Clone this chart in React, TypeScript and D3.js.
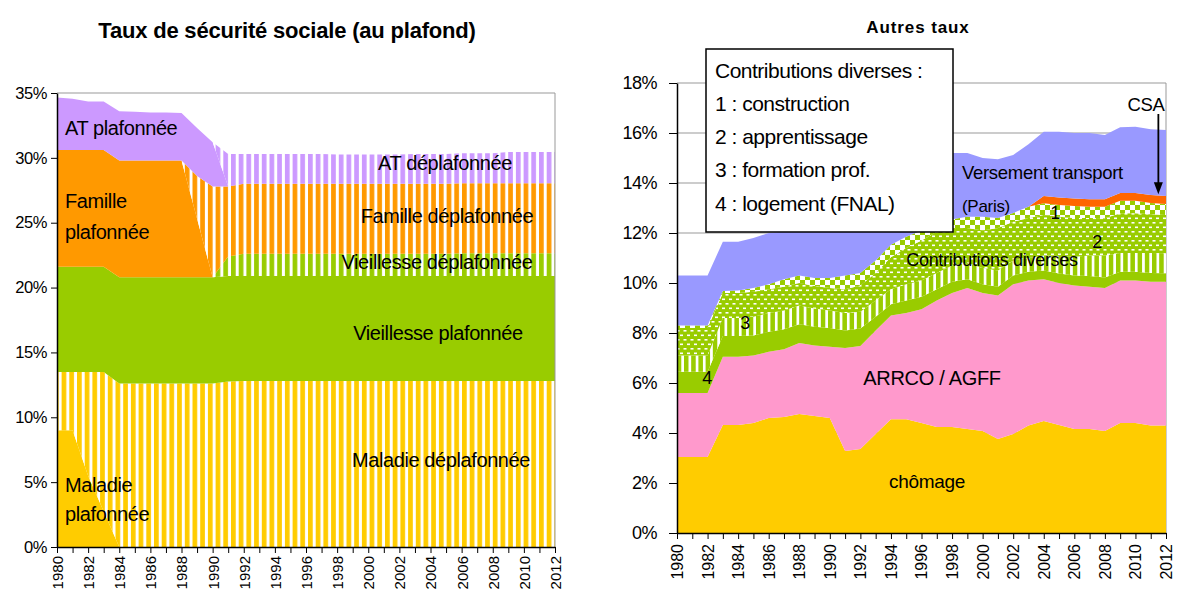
import { useEffect, useRef } from "react";
import * as d3 from "d3";

// années 1980 -> 2012
const years = [
  1980, 1981, 1982, 1983, 1984, 1985, 1986, 1987, 1988, 1989,
  1990, 1991, 1992, 1993, 1994, 1995, 1996, 1997, 1998, 1999,
  2000, 2001, 2002, 2003, 2004, 2005, 2006, 2007, 2008, 2009,
  2010, 2011, 2012,
];

// ---- Taux de sécurité sociale (en %) ----
const maladiePlaf = [
  9, 9, 5.5, 2.75, 0, 0, 0, 0, 0, 0,
  0, 0, 0, 0, 0, 0, 0, 0, 0, 0,
  0, 0, 0, 0, 0, 0, 0, 0, 0, 0,
  0, 0, 0,
];
const maladieDeplaf = [
  4.5, 4.5, 8, 10.75, 12.6, 12.6, 12.6, 12.6, 12.6, 12.6,
  12.6, 12.75, 12.8, 12.8, 12.8, 12.8, 12.8, 12.8, 12.8, 12.8,
  12.8, 12.8, 12.8, 12.8, 12.8, 12.8, 12.8, 12.8, 12.8, 12.8,
  12.8, 12.8, 12.8,
];
const vieillessePlaf = [
  8.1, 8.1, 8.1, 8.1, 8.2, 8.2, 8.2, 8.2, 8.2, 8.2,
  8.2, 8.15, 8.1, 8.1, 8.1, 8.1, 8.1, 8.1, 8.1, 8.1,
  8.1, 8.1, 8.1, 8.1, 8.1, 8.1, 8.1, 8.1, 8.1, 8.1,
  8.1, 8.1, 8.1,
];
const vieillesseDeplaf = [
  0, 0, 0, 0, 0, 0, 0, 0, 0, 0,
  0, 1.5, 1.7, 1.7, 1.7, 1.7, 1.7, 1.7, 1.7, 1.7,
  1.7, 1.7, 1.7, 1.7, 1.7, 1.7, 1.75, 1.75, 1.75, 1.75,
  1.75, 1.75, 1.75,
];
const famillePlaf = [
  9, 9, 9, 9, 9, 9, 9, 9, 9, 4.5,
  0, 0, 0, 0, 0, 0, 0, 0, 0, 0,
  0, 0, 0, 0, 0, 0, 0, 0, 0, 0,
  0, 0, 0,
];
const familleDeplaf = [
  0, 0, 0, 0, 0, 0, 0, 0, 0, 3.3,
  7, 5.4, 5.4, 5.4, 5.4, 5.4, 5.4, 5.4, 5.4, 5.4,
  5.4, 5.4, 5.4, 5.4, 5.4, 5.4, 5.4, 5.4, 5.4, 5.4,
  5.4, 5.4, 5.4,
];
const atPlaf = [
  4.05, 3.95, 3.75, 3.75, 3.8, 3.75, 3.7, 3.7, 3.65, 3.7,
  3.4, 0, 0, 0, 0, 0, 0, 0, 0, 0,
  0, 0, 0, 0, 0, 0, 0, 0, 0, 0,
  0, 0, 0,
];
const atDeplaf = [
  0, 0, 0, 0, 0, 0, 0, 0, 0, 0,
  0, 2.5, 2.3, 2.3, 2.3, 2.3, 2.3, 2.3, 2.25, 2.25,
  2.25, 2.25, 2.25, 2.3, 2.3, 2.3, 2.3, 2.3, 2.3, 2.4,
  2.4, 2.4, 2.4,
];

// ---- Autres taux (en %) ----
const chomage = [
  3.04, 3.04, 3.04, 4.32, 4.32, 4.4, 4.6, 4.64, 4.76, 4.68,
  4.6, 3.28, 3.36, 3.96, 4.55, 4.55, 4.4, 4.24, 4.24, 4.16,
  4.08, 3.76, 3.96, 4.3, 4.48, 4.32, 4.16, 4.16, 4.08, 4.4,
  4.4, 4.3, 4.3,
];
const arrco = [
  2.56, 2.56, 2.56, 2.73, 2.73, 2.7, 2.65, 2.71, 2.84, 2.82,
  2.85, 4.12, 4.12, 4.14, 4.15, 4.25, 4.55, 5.06, 5.36, 5.64,
  5.52, 5.74, 5.99, 5.8, 5.67, 5.68, 5.74, 5.69, 5.72, 5.7,
  5.7, 5.75, 5.75,
];
const logement = [
  0.85, 0.85, 0.85, 0.83, 0.83, 0.8, 0.8, 0.8, 0.75, 0.75,
  0.75, 0.7, 0.7, 0.55, 0.45, 0.5, 0.5, 0.45, 0.45, 0.35,
  0.35, 0.35, 0.35, 0.35, 0.35, 0.38, 0.4, 0.43, 0.42, 0.35,
  0.35, 0.35, 0.34,
];
const formation = [
  0.65, 0.65, 0.65, 0.72, 0.72, 0.75, 0.75, 0.75, 0.75, 0.73,
  0.7, 0.7, 0.67, 0.65, 0.6, 0.65, 0.65, 0.65, 0.65, 0.65,
  0.65, 0.65, 0.6, 0.55, 0.6, 0.7, 0.75, 0.82, 0.88, 0.75,
  0.75, 0.8, 0.8,
];
const apprentissage = [
  1.1, 1.1, 1.1, 1.0, 1.0, 1.0, 0.95, 0.95, 0.9, 0.9,
  0.9, 0.95, 1.05, 1.1, 1.28, 1.45, 1.6, 1.65, 1.5, 1.4,
  1.5, 1.7, 1.55, 1.6, 1.62, 1.57, 1.55, 1.5, 1.49, 1.59,
  1.59, 1.55, 1.53,
];
const construction = [
  0.1, 0.1, 0.1, 0.08, 0.1, 0.15, 0.2, 0.3, 0.3, 0.32,
  0.4, 0.55, 0.5, 0.5, 0.5, 0.45, 0.4, 0.4, 0.35, 0.45,
  0.55, 0.4, 0.35, 0.45, 0.47, 0.47, 0.48, 0.45, 0.46, 0.5,
  0.5, 0.45, 0.44,
];
const csa = [
  0, 0, 0, 0, 0, 0, 0, 0, 0, 0,
  0, 0, 0, 0, 0, 0, 0, 0, 0, 0,
  0, 0, 0, 0, 0.29, 0.3, 0.3, 0.3, 0.3, 0.31,
  0.31, 0.32, 0.32,
];
const transport = [
  2.0, 2.0, 2.0, 1.97, 1.95, 2.0, 2.05, 1.9, 1.85, 2.0,
  2.1, 2.2, 2.5, 2.5, 2.5, 2.55, 2.6, 2.45, 2.65, 2.55,
  2.35, 2.35, 2.32, 2.5, 2.57, 2.63, 2.62, 2.65, 2.57, 2.63,
  2.65, 2.63, 2.64,
];

const leftTicks = [0, 5, 10, 15, 20, 25, 30, 35];
const rightTicks = [0, 2, 4, 6, 8, 10, 12, 14, 16, 18];

const FONT = "'Liberation Sans', Arial, sans-serif";

export default function App() {
  const ref = useRef<SVGSVGElement>(null);

  useEffect(() => {
    const svg = d3.select(ref.current);
    svg.selectAll("*").remove();
    const defs = svg.append("defs");

    // motifs : rayures verticales, pointillés, damier
    const stripes = (id: string, color: string, w: number, gap: number) => {
      const p = defs.append("pattern").attr("id", id)
        .attr("patternUnits", "userSpaceOnUse").attr("width", w).attr("height", 10);
      p.append("rect").attr("width", w).attr("height", 10).attr("fill", "#fff");
      p.append("rect").attr("width", w - gap).attr("height", 10).attr("fill", color);
    };
    stripes("st-yellow", "#FFCC00", 7.7, 3);
    stripes("st-green", "#99CC00", 7.7, 3);
    stripes("st-orange", "#FF9900", 7.7, 3);
    stripes("st-purple", "#CC99FF", 7.7, 3);
    stripes("st-green2", "#99CC00", 7.2, 2.7);

    const dots = defs.append("pattern").attr("id", "dots")
      .attr("patternUnits", "userSpaceOnUse").attr("width", 7).attr("height", 9);
    dots.append("rect").attr("width", 7).attr("height", 9).attr("fill", "#99CC00");
    dots.append("rect").attr("x", 1).attr("y", 1.5).attr("width", 3).attr("height", 1.6).attr("fill", "#fff");
    dots.append("rect").attr("x", 4.5).attr("y", 6).attr("width", 3).attr("height", 1.6).attr("fill", "#fff");
    dots.append("rect").attr("x", -2.5).attr("y", 6).attr("width", 3).attr("height", 1.6).attr("fill", "#fff");

    const checker = defs.append("pattern").attr("id", "checker")
      .attr("patternUnits", "userSpaceOnUse").attr("width", 10).attr("height", 10);
    checker.append("rect").attr("width", 10).attr("height", 10).attr("fill", "#fff");
    checker.append("rect").attr("width", 5).attr("height", 5).attr("fill", "#99CC00");
    checker.append("rect").attr("x", 5).attr("y", 5).attr("width", 5).attr("height", 5).attr("fill", "#99CC00");

    // ================= graphique de gauche =================
    const xL = d3.scaleLinear().domain([1980, 2012]).range([57, 555]);
    const yL = d3.scaleLinear().domain([0, 35]).range([547, 93]);

    const leftKeys = ["maladiePlaf", "maladieDeplaf", "vieillessePlaf", "vieillesseDeplaf",
      "famillePlaf", "familleDeplaf", "atPlaf", "atDeplaf"];
    const leftFill: Record<string, string> = {
      maladiePlaf: "#FFCC00", maladieDeplaf: "url(#st-yellow)",
      vieillessePlaf: "#99CC00", vieillesseDeplaf: "url(#st-green)",
      famillePlaf: "#FF9900", familleDeplaf: "url(#st-orange)",
      atPlaf: "#CC99FF", atDeplaf: "url(#st-purple)",
    };
    const leftRows = years.map((yr, i) => ({
      year: yr,
      maladiePlaf: maladiePlaf[i], maladieDeplaf: maladieDeplaf[i],
      vieillessePlaf: vieillessePlaf[i], vieillesseDeplaf: vieillesseDeplaf[i],
      famillePlaf: famillePlaf[i], familleDeplaf: familleDeplaf[i],
      atPlaf: atPlaf[i], atDeplaf: atDeplaf[i],
    }));
    const stackL = d3.stack<any>().keys(leftKeys)(leftRows);
    const areaL = d3.area<any>()
      .x((d: any) => xL(d.data.year))
      .y0((d: any) => yL(d[0]))
      .y1((d: any) => yL(d[1]));

    const gL = svg.append("g");
    gL.selectAll(".lay").data(stackL).enter().append("path")
      .attr("d", areaL as any)
      .attr("fill", (d: any) => leftFill[d.key]);

    // cadre
    gL.append("path")
      .attr("d", `M${xL(1980)},${yL(35)}H${xL(2012)}V${yL(0)}`)
      .attr("fill", "none").attr("stroke", "#999").attr("stroke-width", 1);

    const axL = gL.append("g").attr("transform", `translate(${xL(1980)},0)`)
      .call(d3.axisLeft(yL).tickValues(leftTicks).tickFormat((d: any) => d + "%").tickSize(6).tickSizeOuter(0));
    axL.selectAll("text").attr("font-size", 16.5).attr("font-family", FONT).attr("fill", "#000")
      .attr("x", -10).attr("letter-spacing", -0.4);
    axL.select(".domain").attr("stroke-width", 1.5);

    const axLB = gL.append("g").attr("transform", `translate(0,${yL(0)})`)
      .call(d3.axisBottom(xL).tickValues(years)
        .tickFormat((d: any) => (d % 2 === 0 ? String(d) : "")).tickSize(6).tickSizeOuter(0));
    axLB.selectAll("text").attr("font-size", 15).attr("font-family", FONT).attr("fill", "#000")
      .attr("transform", "rotate(-90)").attr("text-anchor", "end")
      .attr("x", -9).attr("y", 0).attr("dy", "0.36em");
    axLB.select(".domain").attr("stroke-width", 1.5);

    gL.append("text").attr("x", 287).attr("y", 38).attr("text-anchor", "middle")
      .attr("font-family", FONT).attr("font-weight", "bold").attr("font-size", 22)
      .attr("letter-spacing", -0.2)
      .text("Taux de sécurité sociale (au plafond)");

    const leftLabels: [string, number, number, string][] = [
      ["AT plafonnée", 65, 128, "start"],
      ["Famille", 65, 201, "start"],
      ["plafonnée", 65, 232, "start"],
      ["AT déplafonnée", 445, 163, "middle"],
      ["Famille déplafonnée", 447, 216, "middle"],
      ["Vieillesse déplafonnée", 437, 262, "middle"],
      ["Vieillesse plafonnée", 438, 333, "middle"],
      ["Maladie déplafonnée", 441, 460, "middle"],
      ["Maladie", 65, 485, "start"],
      ["plafonnée", 65, 514, "start"],
    ];
    gL.selectAll(".lbl").data(leftLabels).enter().append("text")
      .attr("x", (d) => d[1]).attr("y", (d) => d[2]).attr("dy", "0.36em")
      .attr("text-anchor", (d) => d[3])
      .attr("font-family", FONT).attr("font-size", 20).attr("letter-spacing", -0.4)
      .text((d) => d[0]);

    // ================= graphique de droite =================
    const xR = d3.scaleLinear().domain([1980, 2012]).range([677, 1166]);
    const yR = d3.scaleLinear().domain([0, 18]).range([533, 83]);

    const gR = svg.append("g");
    gR.selectAll(".grid").data(rightTicks.slice(1)).enter().append("line")
      .attr("x1", xR(1980)).attr("x2", xR(2012))
      .attr("y1", (d) => yR(d)).attr("y2", (d) => yR(d))
      .attr("stroke", "#999").attr("stroke-width", 1);
    gR.append("line").attr("x1", xR(2012)).attr("x2", xR(2012))
      .attr("y1", yR(18)).attr("y2", yR(0)).attr("stroke", "#999");

    const rightKeys = ["chomage", "arrco", "logement", "formation", "apprentissage",
      "construction", "csa", "transport"];
    const rightFill: Record<string, string> = {
      chomage: "#FFCC00", arrco: "#FF99CC", logement: "#99CC00",
      formation: "url(#st-green2)", apprentissage: "url(#dots)",
      construction: "url(#checker)", csa: "#FF6600", transport: "#9999FF",
    };
    const rightRows = years.map((yr, i) => ({
      year: yr,
      chomage: chomage[i], arrco: arrco[i], logement: logement[i], formation: formation[i],
      apprentissage: apprentissage[i], construction: construction[i], csa: csa[i],
      transport: transport[i],
    }));
    const stackR = d3.stack<any>().keys(rightKeys)(rightRows);
    const areaR = d3.area<any>()
      .x((d: any) => xR(d.data.year))
      .y0((d: any) => yR(d[0]))
      .y1((d: any) => yR(d[1]));
    gR.selectAll(".lay").data(stackR).enter().append("path")
      .attr("d", areaR as any)
      .attr("fill", (d: any) => rightFill[d.key]);

    const axR = gR.append("g").attr("transform", `translate(${xR(1980)},0)`)
      .call(d3.axisLeft(yR).tickValues(rightTicks).tickFormat((d: any) => d + "%").tickSize(8).tickSizeOuter(0));
    axR.selectAll("text").attr("font-size", 18).attr("font-family", FONT).attr("fill", "#000")
      .attr("x", -20).attr("letter-spacing", -0.5);
    axR.select(".domain").attr("stroke-width", 1.5);

    const axRB = gR.append("g").attr("transform", `translate(0,${yR(0)})`)
      .call(d3.axisBottom(xR).tickValues(years)
        .tickFormat((d: any) => (d % 2 === 0 ? String(d) : "")).tickSize(6).tickSizeOuter(0));
    axRB.selectAll("text").attr("font-size", 16).attr("font-family", FONT).attr("fill", "#000")
      .attr("transform", "rotate(-90)").attr("text-anchor", "end")
      .attr("x", -11).attr("y", 0).attr("dy", "0.34em");
    axRB.select(".domain").attr("stroke-width", 1.5);

    gR.append("text").attr("x", 918).attr("y", 33).attr("text-anchor", "middle")
      .attr("font-family", FONT).attr("font-weight", "bold").attr("font-size", 17)
      .attr("letter-spacing", 0.9)
      .text("Autres taux");

    const rightLabels: [string, number, number, string, number][] = [
      ["Versement transport", 962, 172, "start", 18.5],
      ["(Paris)", 962, 206, "start", 17],
      ["1", 1055, 213, "middle", 18],
      ["2", 1097, 242, "middle", 18],
      ["Contributions diverses", 992, 260, "middle", 18],
      ["3", 745, 323, "middle", 18],
      ["4", 707, 378, "middle", 18],
      ["ARRCO / AGFF", 932, 378, "middle", 20],
      ["chômage", 927, 481, "middle", 19],
      ["CSA", 1146, 104, "middle", 18.5],
    ];
    gR.selectAll(".lbl").data(rightLabels).enter().append("text")
      .attr("x", (d) => d[1]).attr("y", (d) => d[2]).attr("dy", "0.36em")
      .attr("text-anchor", (d) => d[3])
      .attr("font-family", FONT).attr("font-size", (d) => d[4]).attr("letter-spacing", -0.3)
      .text((d) => d[0]);

    // flèche CSA
    const ax = xR(2011.5);
    const ayEnd = yR(13.55);
    gR.append("line").attr("x1", ax).attr("x2", ax).attr("y1", 114).attr("y2", ayEnd - 10)
      .attr("stroke", "#000").attr("stroke-width", 1.8);
    gR.append("path")
      .attr("d", `M${ax - 4.5},${ayEnd - 12}L${ax + 4.5},${ayEnd - 12}L${ax},${ayEnd}Z`)
      .attr("fill", "#000");

    // encadré des contributions diverses
    const box = gR.append("g");
    box.append("rect").attr("x", 706).attr("y", 49).attr("width", 247).attr("height", 183)
      .attr("fill", "#fff").attr("stroke", "#000").attr("stroke-width", 1.5);
    const boxLines = [
      "Contributions diverses :",
      "1 : construction",
      "2 : apprentissage",
      "3 : formation prof.",
      "4 : logement (FNAL)",
    ];
    box.selectAll("text").data(boxLines).enter().append("text")
      .attr("x", 715).attr("y", (_d, i) => 70 + i * 33.3).attr("dy", "0.36em")
      .attr("font-family", FONT).attr("font-size", 21).attr("letter-spacing", -0.5)
      .text((d) => d);
  }, []);

  return (
    <svg ref={ref} width={1177} height={595}
      style={{ position: "absolute", left: 0, top: 0, background: "#fff" }} />
  );
}
